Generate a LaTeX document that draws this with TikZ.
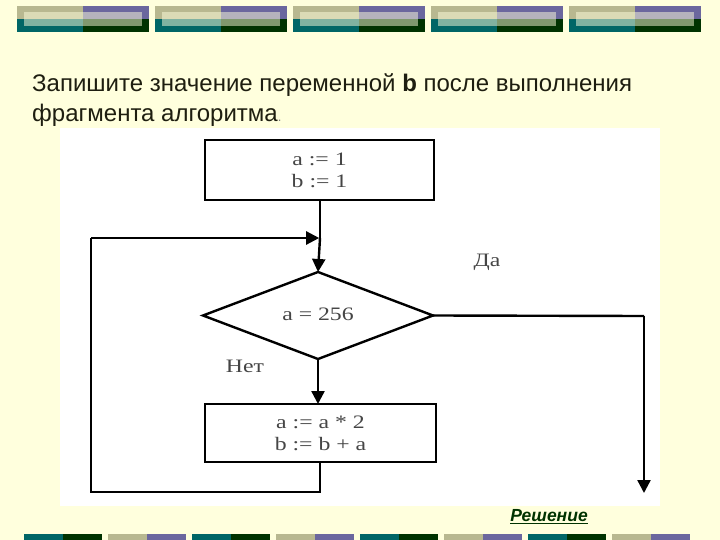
\documentclass[tikz,border=0pt]{standalone}
\usepackage{fontspec}
\setmainfont{Liberation Serif}
\setsansfont{Liberation Sans}
\usetikzlibrary{arrows.meta,shapes.geometric}
\definecolor{bgyellow}{HTML}{FFFFDD}
\definecolor{khaki}{HTML}{B8B890}
\definecolor{lilac}{HTML}{6B679E}
\definecolor{tealc}{HTML}{006666}
\definecolor{dkgreen}{HTML}{003300}
\definecolor{txtgray}{HTML}{454545}
\definecolor{titlec}{HTML}{1E1E10}
\newcommand{\wdtxt}[1]{\scalebox{1.25}[1]{#1}}
\tikzset{
  flow/.style={line width=2.4pt, black},
  arr/.style={flow, -{Triangle[length=13pt,width=13pt]}},
  procbox/.style={draw, line width=2.4pt, fill=white, minimum width=229pt, minimum height=60pt,
    inner sep=0pt, outer sep=0pt, align=center, text=txtgray,
    font=\fontsize{19}{22}\selectfont},
  decbox/.style={diamond, draw, line width=2.4pt, minimum width=230pt, minimum height=87pt,
    inner sep=0pt, outer sep=0pt, text=txtgray, font=\fontsize{19}{22}\selectfont},
  lbl/.style={text=txtgray, font=\fontsize{19}{22}\selectfont, inner sep=0pt},
  titletxt/.style={anchor=base west, inner sep=0pt, text=titlec,
    font=\sffamily\fontsize{24}{28}\selectfont}
}
\begin{document}
\begin{tikzpicture}[x=1pt,y=-1pt]
\useasboundingbox (0,0) rectangle (720,540);
\fill[bgyellow] (0,0) rectangle (720,540);
% top bars
\foreach \i in {0,...,4}{
  \pgfmathsetmacro{\xo}{17+138*\i}
  \fill[khaki] (\xo,6) rectangle ++(66,13);
  \fill[lilac] (\xo+66,6) rectangle ++(66,13);
  \fill[tealc] (\xo,19) rectangle ++(66,13);
  \fill[dkgreen] (\xo+66,19) rectangle ++(66,13);
  \fill[bgyellow, opacity=0.5] (\xo+7,12) rectangle ++(118,14);
}
% bottom bars
\foreach \j in {0,...,7}{
  \pgfmathsetmacro{\xo}{24+84*\j}
  \pgfmathparse{int(mod(\j,2))}
  \ifnum\pgfmathresult=0
    \fill[tealc] (\xo,534) rectangle ++(39,6);
    \fill[dkgreen] (\xo+39,534) rectangle ++(39,6);
  \else
    \fill[khaki] (\xo,534) rectangle ++(39,6);
    \fill[lilac] (\xo+39,534) rectangle ++(39,6);
  \fi
}
% title
\node[titletxt] (t1) at (32,92) {Запишите значение переменной \textbf{b} после выполнения};
\node[titletxt] (t2) at (32,122) {фрагмента алгоритма{\color{gray}\fontsize{13}{14}\selectfont.}};
% white panel
\fill[white] (60,128) rectangle (660,506);
% flowchart
\node[procbox] (init) at (319.5,170) {\wdtxt{a := 1}\\\wdtxt{b := 1}};
\node[decbox] (cond) at (318,315.5) {\raisebox{3pt}{\wdtxt{a = 256}}};
\node[procbox, minimum width=231pt, minimum height=58pt] (body) at (320.5,433) {\wdtxt{a := a * 2}\\\wdtxt{b := b + a}};
\coordinate (merge) at (320,238);
\coordinate (loopL) at (91,238);
\coordinate (loopB) at (91,492);
\coordinate (bodyB) at (320,492);
\coordinate (yesR) at (644,316);
\coordinate (yesEnd) at (644,493);
\draw[flow] (init.south -| merge) -- (merge);
\draw[arr] (merge) -- (cond.north);
\draw[arr] (cond.south) -- (body.north -| cond.south);
\draw[flow] (body.south -| bodyB) -- (bodyB) -- (loopB) -- (loopL);
\draw[arr] (loopL) -- ([xshift=-0.8pt]merge);
\draw[flow] (cond.east) -- (yesR);
\draw[arr] (yesR) -- (yesEnd);
\node[lbl] (yes) at (487,262) {\wdtxt{Да}};
\node[lbl] (no) at (245,366) {\wdtxt{Нет}};
% solution link
\node[anchor=base, inner sep=0pt, text=dkgreen, font=\sffamily\bfseries\itshape\fontsize{17.5}{20}\selectfont] (sol) at (549,521) {Решение};
\draw[dkgreen, line width=1.3pt] ([yshift=-2.5pt]sol.base west) -- ([yshift=-2.5pt]sol.base east);
\end{tikzpicture}
\end{document}
